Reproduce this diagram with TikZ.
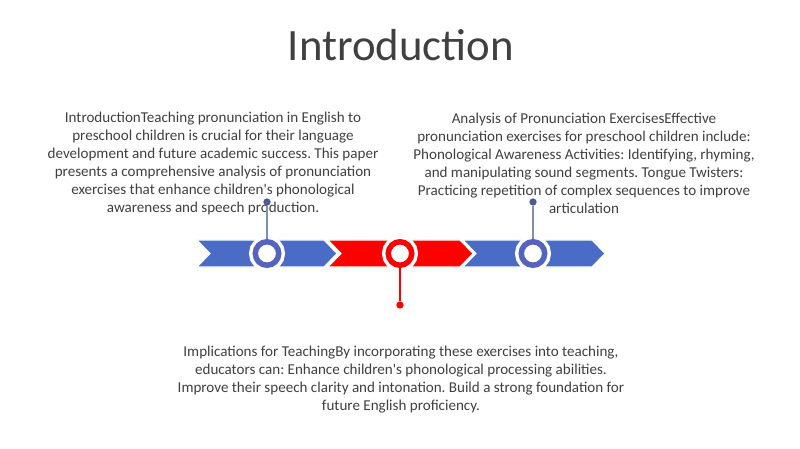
\documentclass[tikz,border=0pt]{standalone}
\usepackage{fontspec}
\setmainfont{Carlito}
\usepackage{tikz}
\frenchspacing

\definecolor{txtgray}{HTML}{404040}
\definecolor{segblue}{HTML}{4A6BC6}
\definecolor{ringblue}{HTML}{5563C0}
\definecolor{segred}{HTML}{FF0000}
\definecolor{stemgray}{HTML}{8190AD}
\definecolor{dotblue}{HTML}{4F5C8C}

\tikzset{
  bodytext/.style={text=txtgray, align=center, font=\fontsize{11.3}{13.5}\selectfont, inner sep=0pt},
  ring/.style={circle, fill=white, draw=#1, line width=4.1pt, minimum size=17.6pt, inner sep=0pt,
    preaction={draw=white, line width=9.4pt}},
  stemdot/.style={circle, fill=#1, minimum size=5.5pt, inner sep=0pt},
}

\begin{document}
\begin{tikzpicture}[x=0.75pt,y=-0.75pt]
	\useasboundingbox (0,0) rectangle (800,449);
	\fill[white] (0,0) rectangle (800,449);

	\node[text=txtgray, font=\fontsize{33.6}{40}\selectfont] (TITLE) at (401,45) {Introduction};

	\node[bodytext] (TXT_A) at (213,163) {IntroductionTeaching pronunciation in English to\\preschool children is crucial for their language\\development and future academic success. This paper\\presents a comprehensive analysis of pronunciation\\exercises that enhance children\textquotesingle s phonological\\awareness and speech production.};
	\node[bodytext] (TXT_C) at (584,163) {Analysis of Pronunciation ExercisesEffective\\pronunciation exercises for preschool children include:\\Phonological Awareness Activities: Identifying, rhyming,\\and manipulating sound segments. Tongue Twisters:\\Practicing repetition of complex sequences to improve\\articulation};
	\node[bodytext] (TXT_B) at (401,379.5) {Implications for TeachingBy incorporating these exercises into teaching,\\educators can: Enhance children\textquotesingle s phonological processing abilities.\\Improve their speech clarity and intonation. Build a strong foundation for\\future English proficiency.};

	% chevrons
	\filldraw[segblue, draw=white, line width=0.8pt] (197,240) -- (324,240) -- (337,253.5) -- (324,267) -- (197,267) -- (210,253.5) -- cycle;
	\filldraw[segred, draw=white, line width=0.8pt] (328,240) -- (460,240) -- (473,253.5) -- (460,267) -- (328,267) -- (341,253.5) -- cycle;
	\filldraw[segblue, draw=white, line width=0.8pt] (463,240) -- (592,240) -- (605,253.5) -- (592,267) -- (463,267) -- (476,253.5) -- cycle;

	\node[stemdot=dotblue] (DOT_A) at (267,202) {};
	\node[stemdot=segred] (DOT_B) at (400,305) {};
	\node[stemdot=dotblue] (DOT_C) at (533,202) {};

	\node[ring=ringblue] (RING_A) at (267,253.5) {};
	\node[ring=segred] (RING_B) at (400,253.5) {};
	\node[ring=ringblue] (RING_C) at (533,253.5) {};

	\draw[stemgray, line width=1pt] (RING_A.north) -- (DOT_A);
	\draw[segred, line width=1pt] (RING_B.south) -- (DOT_B);
	\draw[stemgray, line width=1pt] (RING_C.north) -- (DOT_C);
\end{tikzpicture}
\end{document}
